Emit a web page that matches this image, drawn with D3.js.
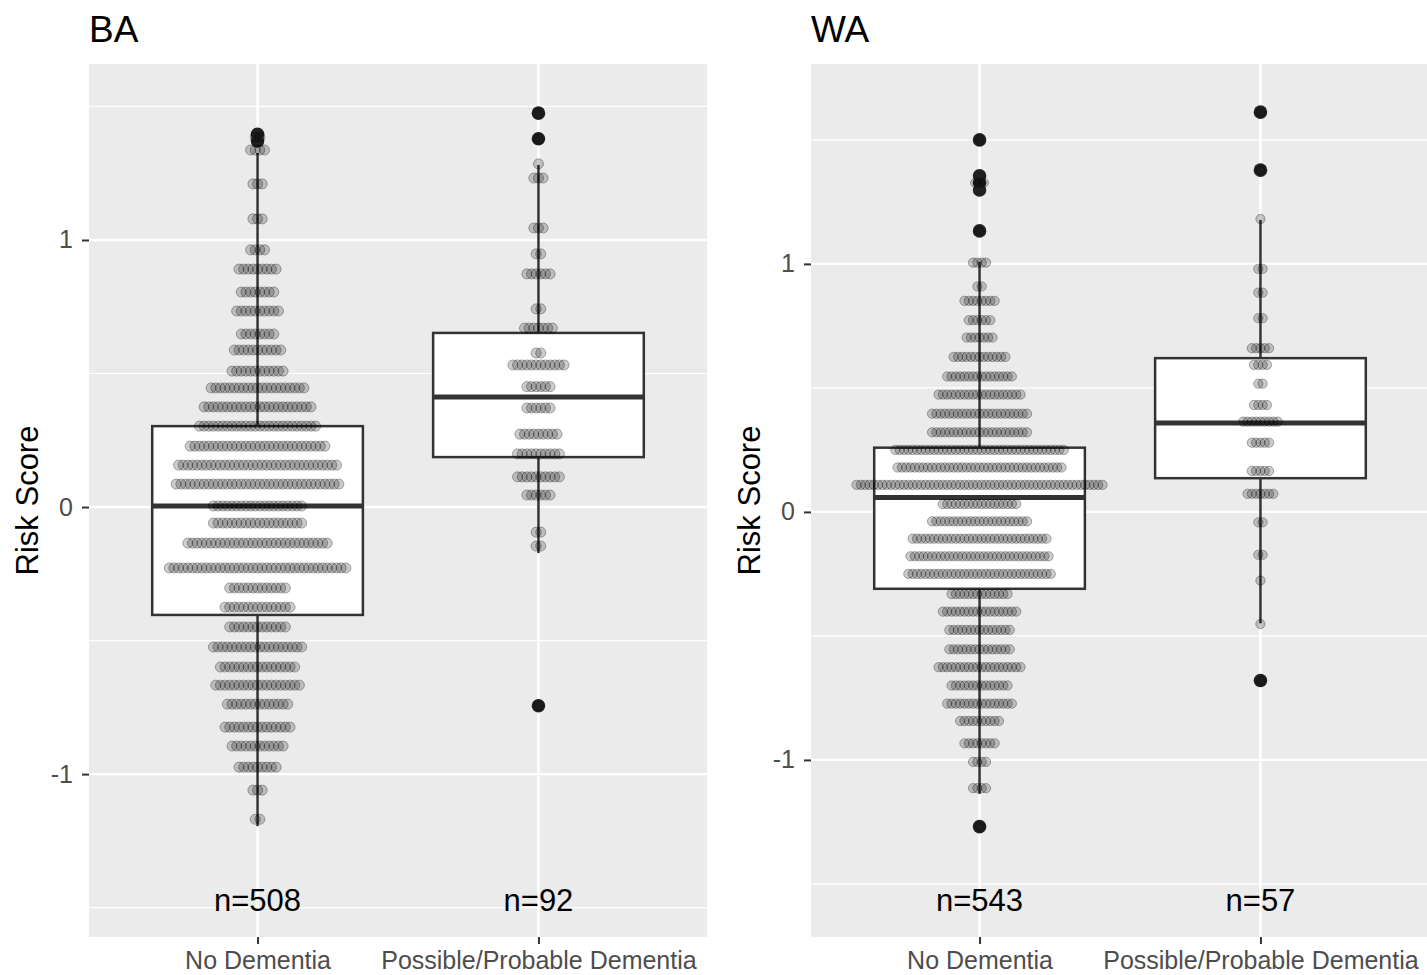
<!DOCTYPE html>
<html>
<head>
<meta charset="utf-8">
<script src="https://cdn.jsdelivr.net/npm/d3@7"></script>
<style>
  html, body { margin: 0; padding: 0; background: #fff; }
  svg { display: block; font-family: "Liberation Sans", Arial, Helvetica, sans-serif; }
</style>
</head>
<body>
<svg id="chart" width="1427" height="975"></svg>
<script>
// ---------------- DATA ----------------
const panelNames = ["BA", "WA"];
const categories = ["No Dementia", "Possible/Probable Dementia"];
const yTicks = [-1, 0, 1];
const yMinorTicks = [-1.5, -0.5, 0.5, 1.5];
const yAxisTitle = "Risk Score";

const nCounts_BA = [508, 92];
const nCounts_WA = [543, 57];

// Dot-plot rows (bin centre values and number of stacked dots)
const ba_nd_rowValues = [1.385, 1.337, 1.210, 1.079, 0.963, 0.891, 0.805, 0.734, 0.648, 0.588, 0.509, 0.446, 0.375, 0.303, 0.228, 0.157, 0.086, 0.004, -0.060, -0.135, -0.228, -0.303, -0.375, -0.449, -0.524, -0.599, -0.667, -0.738, -0.824, -0.895, -0.974, -1.060, -1.169];
const ba_nd_rowCounts = [2, 4, 3, 3, 4, 9, 8, 10, 8, 11, 12, 21, 24, 26, 30, 35, 36, 20, 20, 31, 39, 13, 15, 13, 20, 17, 19, 14, 15, 12, 9, 3, 2];

const ba_pd_rowValues = [1.475, 1.379, 1.285, 1.232, 1.045, 0.948, 0.873, 0.742, 0.670, 0.577, 0.532, 0.451, 0.371, 0.273, 0.199, 0.113, 0.045, -0.094, -0.146, -0.744];
const ba_pd_rowCounts = [1, 1, 1, 3, 3, 2, 6, 2, 7, 2, 12, 6, 6, 9, 10, 10, 6, 2, 2, 1];

const wa_nd_rowValues = [1.500, 1.327, 1.133, 1.005, 0.909, 0.851, 0.773, 0.703, 0.625, 0.546, 0.473, 0.396, 0.321, 0.250, 0.179, 0.109, 0.032, -0.038, -0.108, -0.179, -0.250, -0.331, -0.402, -0.476, -0.554, -0.626, -0.700, -0.773, -0.843, -0.933, -1.008, -1.114, -1.269];
const wa_nd_rowCounts = [1, 3, 1, 4, 2, 8, 6, 7, 13, 16, 20, 23, 23, 40, 39, 58, 18, 23, 32, 33, 34, 14, 18, 15, 15, 20, 14, 16, 10, 8, 4, 4, 1];

const wa_pd_rowValues = [1.612, 1.378, 1.181, 0.980, 0.884, 0.781, 0.660, 0.593, 0.517, 0.431, 0.364, 0.279, 0.165, 0.073, -0.042, -0.173, -0.277, -0.452, -0.680];
const wa_pd_rowCounts = [1, 1, 1, 2, 2, 2, 5, 4, 2, 4, 9, 5, 5, 7, 2, 2, 1, 1, 1];

// Box-plot statistics: [lower whisker, Q1, median, Q3, upper whisker]
const ba_nd_box = [-1.195, -0.404, 0.004, 0.303, 1.326];
const ba_pd_box = [-0.172, 0.187, 0.412, 0.652, 1.281];
const wa_nd_box = [-1.137, -0.310, 0.058, 0.259, 1.009];
const wa_pd_box = [-0.449, 0.136, 0.358, 0.620, 1.177];

const ba_nd_outliers = [1.396, 1.371];
const ba_pd_outliers = [1.475, 1.379, -0.744];
const wa_nd_outliers = [1.500, 1.355, 1.327, 1.298, 1.133, -1.269];
const wa_pd_outliers = [1.612, 1.378, -0.680];

// ---------------- LAYOUT ----------------
const svg = d3.select("#chart");
const panelTop = 64, panelBottom = 937;
const panels = [
  { name: panelNames[0], left: 89, right: 707, yDomain: [-1.61, 1.659], n: nCounts_BA,
    groups: [
      { rows: ba_nd_rowValues, counts: ba_nd_rowCounts, box: ba_nd_box, out: ba_nd_outliers },
      { rows: ba_pd_rowValues, counts: ba_pd_rowCounts, box: ba_pd_box, out: ba_pd_outliers } ] },
  { name: panelNames[1], left: 811, right: 1429, yDomain: [-1.714, 1.806], n: nCounts_WA,
    groups: [
      { rows: wa_nd_rowValues, counts: wa_nd_rowCounts, box: wa_nd_box, out: wa_nd_outliers },
      { rows: wa_pd_rowValues, counts: wa_pd_rowCounts, box: wa_pd_box, out: wa_pd_outliers } ] }
];

const dotDiaData = 0.040;   // dot diameter in data units
const stackRatio = 0.435;   // horizontal spacing relative to diameter

panels.forEach(p => {
  const g = svg.append("g");
  const x = d3.scalePoint().domain(categories).range([p.left, p.right]).padding(0.6);
  const y = d3.scaleLinear().domain(p.yDomain).range([panelBottom, panelTop]);
  const step = x.step();

  // panel background
  g.append("rect").attr("x", p.left).attr("y", panelTop)
    .attr("width", p.right - p.left).attr("height", panelBottom - panelTop)
    .attr("fill", "#EBEBEB");

  // minor grid
  g.selectAll(".minor").data(yMinorTicks).enter().append("line")
    .attr("x1", p.left).attr("x2", p.right)
    .attr("y1", d => y(d)).attr("y2", d => y(d))
    .attr("stroke", "#fff").attr("stroke-width", 1.2);
  // major grid
  g.selectAll(".majorY").data(yTicks).enter().append("line")
    .attr("x1", p.left).attr("x2", p.right)
    .attr("y1", d => y(d)).attr("y2", d => y(d))
    .attr("stroke", "#fff").attr("stroke-width", 2.4);
  g.selectAll(".majorX").data(categories).enter().append("line")
    .attr("x1", d => x(d)).attr("x2", d => x(d))
    .attr("y1", panelTop).attr("y2", panelBottom)
    .attr("stroke", "#fff").attr("stroke-width", 2.4);

  // y axis
  const yAxis = g.append("g").attr("transform", `translate(${p.left},0)`)
    .call(d3.axisLeft(y).tickValues(yTicks).tickFormat(d3.format("d")).tickSizeOuter(0).tickSize(7).tickPadding(9));
  yAxis.select(".domain").remove();
  yAxis.selectAll(".tick line").attr("stroke", "#333").attr("stroke-width", 2);
  yAxis.selectAll(".tick text").attr("fill", "#4D4D4D").attr("font-size", 25)
    .style("font-family", "'Liberation Sans', Arial, sans-serif").text(d => d < 0 ? "-" + Math.abs(d) : d);

  // x axis
  const xAxis = g.append("g").attr("transform", `translate(0,${panelBottom})`)
    .call(d3.axisBottom(x).tickSizeOuter(0).tickSize(7).tickPadding(7));
  xAxis.select(".domain").remove();
  xAxis.selectAll(".tick line").attr("stroke", "#333").attr("stroke-width", 2);
  xAxis.selectAll(".tick text").attr("fill", "#4D4D4D").attr("font-size", 25)
    .style("font-family", "'Liberation Sans', Arial, sans-serif");

  // title
  g.append("text").attr("x", p.left).attr("y", 42).attr("font-size", 37)
    .attr("fill", "#000").text(p.name);

  // y axis title
  g.append("text").attr("transform", `translate(${p.left - 51},${(panelTop + panelBottom) / 2}) rotate(-90)`)
    .attr("text-anchor", "middle").attr("font-size", 31).attr("fill", "#000").text(yAxisTitle);

  const dotR = Math.abs(y(0) - y(dotDiaData)) / 2;
  const dotStep = 2 * dotR * stackRatio;
  const boxW = step * 0.75;

  p.groups.forEach((grp, gi) => {
    const cx = x(categories[gi]);
    const [wLo, q1, med, q3, wHi] = grp.box;
    const bg = g.append("g");
    // whiskers
    bg.append("line").attr("x1", cx).attr("x2", cx).attr("y1", y(q3)).attr("y2", y(wHi))
      .attr("stroke", "#333").attr("stroke-width", 2.5);
    bg.append("line").attr("x1", cx).attr("x2", cx).attr("y1", y(q1)).attr("y2", y(wLo))
      .attr("stroke", "#333").attr("stroke-width", 2.5);
    // box
    bg.append("rect").attr("x", cx - boxW / 2).attr("y", y(q3))
      .attr("width", boxW).attr("height", y(q1) - y(q3))
      .attr("fill", "#fff").attr("stroke", "#333").attr("stroke-width", 2.5);
    // median
    bg.append("line").attr("x1", cx - boxW / 2).attr("x2", cx + boxW / 2)
      .attr("y1", y(med)).attr("y2", y(med))
      .attr("stroke", "#333").attr("stroke-width", 5);
    // outliers
    bg.selectAll(".out").data(grp.out).enter().append("circle")
      .attr("cx", cx).attr("cy", d => y(d)).attr("r", 6.8).attr("fill", "#222");

    // dot plot
    const dots = [];
    grp.rows.forEach((v, ri) => {
      const n = grp.counts[ri];
      for (let i = 0; i < n; i++) dots.push({ v, off: i - (n - 1) / 2 });
    });
    g.append("g").selectAll("circle").data(dots).enter().append("circle")
      .attr("cx", d => cx + d.off * dotStep)
      .attr("cy", d => y(d.v))
      .attr("r", dotR - 0.3)
      .attr("fill", "#000").attr("fill-opacity", 0.2)
      .attr("stroke", "#000").attr("stroke-opacity", 0.3).attr("stroke-width", 1);

    // n label
    g.append("text").attr("x", cx).attr("y", 911).attr("text-anchor", "middle")
      .attr("font-size", 31).attr("fill", "#000").text("n=" + p.n[gi]);
  });
});
</script>
</body>
</html>
